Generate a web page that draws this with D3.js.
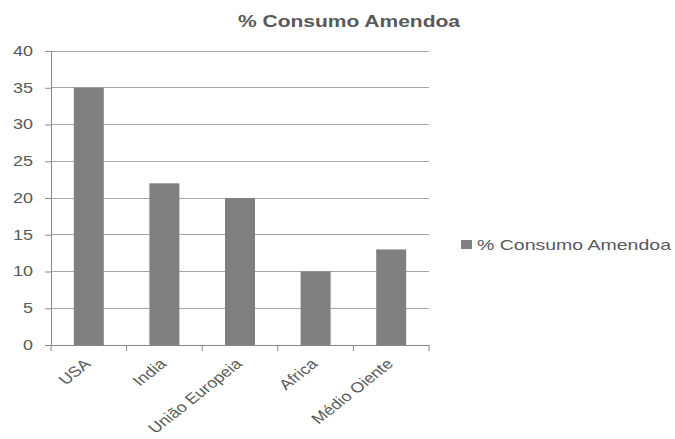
<!DOCTYPE html>
<html><head><meta charset="utf-8">
<script src="https://cdn.jsdelivr.net/npm/d3@7"></script>
<style>body{margin:0;background:#fff}svg{display:block;font-family:"Liberation Sans",Arial,sans-serif}</style>
</head><body><svg id="c" width="675" height="439"></svg>
<script>
const categories = ["USA","India","União Europeia","Africa","Médio Oiente"];
const values = [35,22,20,10,13];
const yTicks = [0,5,10,15,20,25,30,35,40];
const title = "% Consumo Amendoa";
const seriesName = "% Consumo Amendoa";

const svg = d3.select("#c");
const m = {left:51, right:246, top:51, bottom:94};
const W = 675, H = 439;
const xb = d3.scaleBand().domain(categories).range([m.left, W - m.right]);
const y = d3.scaleLinear().domain([0,40]).range([H - m.bottom, m.top]);
const txt = "#595959";

// gridlines
svg.append("g").selectAll("line").data(yTicks.filter(d=>d>0)).join("line")
  .attr("x1", m.left).attr("x2", W - m.right)
  .attr("y1", d=>y(d)).attr("y2", d=>y(d))
  .attr("stroke","#a6a6a6").attr("stroke-width",1).attr("shape-rendering","crispEdges");

// bars
svg.append("g").selectAll("rect").data(values).join("rect")
  .attr("x",(d,i)=>xb(categories[i]) + xb.bandwidth()/2 - 15)
  .attr("width",30)
  .attr("y",d=>y(d)).attr("height",d=>y(0)-y(d))
  .attr("fill","#808080");

// y axis
const ya = svg.append("g").attr("transform",`translate(${m.left},0)`)
  .call(d3.axisLeft(y).tickValues(yTicks).tickSize(6).tickSizeOuter(0).tickPadding(0));
ya.select(".domain").attr("stroke","#888");
ya.selectAll(".tick line").attr("stroke","#888");
ya.selectAll(".tick text").attr("fill",txt).attr("font-size",14).attr("x",-18)
  .attr("textLength", d=>String(d).length*10).attr("lengthAdjust","spacingAndGlyphs").attr("text-anchor","end");

// x axis
const xa = svg.append("g").attr("transform",`translate(0,${y(0)})`)
  .call(d3.axisBottom(xb).tickSize(6).tickSizeOuter(0).tickFormat(""));
xa.select(".domain").attr("stroke","#888");
xa.selectAll(".tick line").attr("stroke","#888").attr("transform",`translate(${-xb.bandwidth()/2},0)`);
xa.append("line").attr("x1",W-m.right).attr("x2",W-m.right).attr("y1",0).attr("y2",6).attr("stroke","#888");

svg.append("g").selectAll("text").data(categories).join("text")
  .attr("transform",d=>`translate(${xb(d)+xb.bandwidth()/2+3},${y(0)+20}) scale(1.22,1) rotate(-44)`)
  .attr("text-anchor","end").attr("font-size",14.5).attr("fill",txt).text(d=>d);

// title
svg.append("text").attr("x",349).attr("y",27).attr("text-anchor","middle")
  .attr("font-size",16).attr("font-weight","bold").attr("fill",txt)
  .attr("textLength",222).attr("lengthAdjust","spacingAndGlyphs").text(title);

// legend
const lg = svg.append("g");
lg.append("rect").attr("x",461).attr("y",240).attr("width",11).attr("height",9).attr("fill","#808080");
lg.append("text").attr("x",477).attr("y",250).attr("font-size",15).attr("fill",txt)
  .attr("textLength",194).attr("lengthAdjust","spacingAndGlyphs").text(seriesName);
</script></body></html>
